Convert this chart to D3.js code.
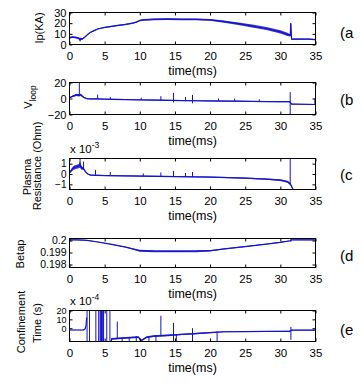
<!DOCTYPE html>
<html><head><meta charset="utf-8">
<script src="https://cdn.jsdelivr.net/npm/d3@7"></script>
<style>
html,body{margin:0;padding:0;background:#fff;}
svg{display:block;}
text{font-family:"Liberation Sans",Arial,Helvetica,sans-serif;fill:#000;}
</style></head><body>
<svg id="chart" width="363" height="382"></svg>
<script>
// ---------- shared axis data ----------
const xTicks = [0, 5, 10, 15, 20, 25, 30, 35];
const xLabel = "time(ms)";
const panelTags = ["(a", "(b", "(c", "(d", "(e"];

// ---------- (a) plasma current Ip (kA) ----------
const ipTime  = [0,0.5,1,1.4,1.5,1.6,1.8,2.2,2.6,3,3.5,4,5,6,6.8,7,8,9,9.5,10,10.5,12,14,16,18,20,22,24,26,28,30,31,31.4,31.5,31.6,32,34,35];
const ipVal   = [6.5,7,6.5,5.5,4,5.5,5,7,9.5,11.5,13,14.5,16,17,17.8,18,18.8,20,21,22.5,23,23.5,23.8,23.6,23.5,23,21.5,19.5,17.3,15,11.8,9.5,8.5,20,5,5,5,4.5];
const ipNoise = [0.8,0.8,0.8,1,1.5,1,0.8,0.5,0.5,0.5,0.5,0.5,0.5,0.6,0.6,0.6,0.6,0.6,0.6,0.7,0.8,0.8,0.8,0.8,0.8,0.8,1,1.2,1.4,1.5,1.5,1.5,1,0,0.5,0.6,0.6,0.6];
const ipSpikes = [[31.45, 8, 20]];
const ipTicks = [0, 10, 20, 30];

// ---------- (b) loop voltage ----------
const vTime  = [0,0.5,1,1.3,1.6,2,2.5,3,4,5,6,8,10,12,14,16,18,20,22,24,26,28,30,31.3,31.6,32,33,34,35];
const vVal   = [1,3,4.5,4,4.5,1.5,-0.3,-0.5,-0.5,-0.8,-1,-1.3,-1.7,-2,-2.3,-2.6,-2.8,-3,-3.2,-3.4,-3.6,-3.8,-4,-4,-7,-7,-7.2,-7.3,-7.5];
const vNoise = [0.5,1,1.5,1.5,1.5,1,0.6,0.6,0.6,0.6,0.6,0.6,0.6,0.6,0.6,0.6,0.6,0.6,0.6,0.6,0.6,0.6,0.6,0.6,0.5,0.5,0.5,0.5,0.5];
const vSpikes = [[1.4,3,22],[4.0,-0.5,5],[5.8,-1,2],[10.2,-1.8,1],[13.0,-2.1,3],[14.8,-5,7],[16.5,-2.6,2],[17.5,-6,4.5],[21.2,-3,0],[23.5,-3.4,0],[27,-3.7,-1],[31.4,-22,8],[34.9,-7.5,0]];
const vTicks = [-20, 0, 20];

// ---------- (c) plasma resistance (x 1e-3 Ohm) ----------
const rTime  = [0,0.3,0.6,1,1.3,1.5,1.7,2,2.3,2.6,3,5,10,15,20,25,28,30,31,31.3,31.45,31.6,31.8,32.2];
const rVal   = [0.1,0.4,0.6,0.7,0.75,0.9,0.6,0.5,0.2,0,-0.1,-0.15,-0.2,-0.25,-0.3,-0.4,-0.5,-0.6,-0.75,-0.9,-1.0,-1.2,-1.5,-2];
const rNoise = [0.1,0.15,0.2,0.2,0.2,0.3,0.2,0.1,0.05,0.05,0.05,0.05,0.05,0.05,0.05,0.05,0.06,0.08,0.1,0.12,0.1,0.1,0.1,0.1];
const rSpikes = [[1.5,0.8,1.6],[2.0,0.5,1.2],[3.7,-0.1,0.4],[5.8,-0.15,0.2],[10.5,-0.2,0.05],[13,-0.22,0.15],[14.8,-0.25,0.3],[16.5,-0.28,0.1],[17.5,-0.3,0.2],[31.4,-1.0,1.6]];
const rTicks = [-1, 0, 1];

// ---------- (d) beta_p ----------
const bTime  = [0,1,2,2.5,4,6,8,10,12,15,18,20,22,25,28,30,31.4,31.6,33,35];
const bVal   = [0.20005,0.20005,0.20004,0.20002,0.19988,0.19968,0.19945,0.19915,0.19911,0.1991,0.19911,0.19915,0.1993,0.1995,0.1997,0.19985,0.19998,0.20006,0.20006,0.20006];
const bNoise = [0.00003,0.00003,0.00003,0.00003,0.00003,0.00003,0.00004,0.00008,0.00008,0.00008,0.00008,0.00006,0.00004,0.00004,0.00004,0.00004,0.00003,0.00003,0.00003,0.00003];
const bSpikes = [[31.5,0.1999,0.20015],[35,0.1977,0.2001]];
const bTicks = [0.198, 0.199, 0.2];

// ---------- (e) confinement time (x 1e-4 s) ----------
const eTime  = [0,1,2,2.2,2.35,2.45,2.5,5.9,6,8,9.8,10.2,11,12,14,16,18,20,22,25,28,31.3,31.6,35];
const eVal   = [-2,-2,-2,-1,3,12,null,-16,-12,-11,-10,-14,-10,-9,-8,-7,-6,-5,-4,-3.8,-3.6,-3.5,-2.2,-2.2];
const eNoise = [0.3,0.3,0.3,0.3,0.3,0.3,0,0.5,1,1,1,1,1,1,1,0.8,0.8,0.6,0.5,0.5,0.5,0.5,0.4,0.4];
const eSpikes = [[2.5,-20,25],[2.85,-20,25],[3.75,-20,25],[4.15,-20,25],[4.35,-20,25],[4.45,-20,25],[4.55,-20,25],[4.65,-20,25],[4.75,-20,25],[4.85,-20,25],[5.3,-20,25],[5.75,-20,25],
  [6.8,-12,7.5],[7.5,-16,-11],[8.5,-16,-10],[9.5,-16,-9],[11.3,-16,-9],[12.3,-16,-8],[13.0,-8,14],[14.8,-16,6],[15.2,-16,-7],[17.5,-16,0],[21.0,-16,-4],[31.5,-13,1.5],[35,-16,-1]];
const eTicks = [0, 10, 20];

// ---------- layout ----------
const L = 69.5, R = 315.5;
const BLUE = "#1414cc";
const svg = d3.select("#chart");
const x = d3.scaleLinear().domain([0, 35]).range([L, R]);

const panels = [
  {time: ipTime, val: ipVal, noise: ipNoise, spikes: ipSpikes, ticks: ipTicks, domain: [0, 30], top: 12.5, bottom: 44.5, yfs: 11},
  {time: vTime, val: vVal, noise: vNoise, spikes: vSpikes, ticks: vTicks, domain: [-20, 20], top: 82.5, bottom: 114.5, yfs: 11},
  {time: rTime, val: rVal, noise: rNoise, spikes: rSpikes, ticks: rTicks, domain: [-1.5, 1.5], top: 158.5, bottom: 189.5, mult: "-3", yfs: 10},
  {time: bTime, val: bVal, noise: bNoise, spikes: bSpikes, ticks: bTicks, domain: [0.19775, 0.20017], top: 238.5, bottom: 267.5, fmt: d3.format(".3~f"), yfs: 10.5},
  {time: eTime, val: eVal, noise: eNoise, spikes: eSpikes, ticks: eTicks, domain: [-15, 20], top: 310.5, bottom: 341.5, mult: "-4", yfs: 9}
];
const tagY = [38, 105, 180, 261, 335];

panels.forEach((p, i) => {
  const y = d3.scaleLinear().domain(p.domain).range([p.bottom, p.top]);
  const g = svg.append("g");
  const cid = "clip" + i;
  svg.append("defs").append("clipPath").attr("id", cid)
    .append("rect").attr("x", L).attr("y", p.top).attr("width", R - L).attr("height", p.bottom - p.top);
  const pts = p.time.map((t, k) => ({t, v: p.val[k], n: p.noise[k]}));
  const plot = g.append("g").attr("clip-path", `url(#${cid})`);
  plot.append("path").datum(pts)
    .attr("d", d3.area().defined(d => d.v != null).x(d => x(d.t)).y0(d => y(d.v - d.n)).y1(d => y(d.v + d.n)))
    .attr("fill", BLUE).attr("opacity", 0.85);
  plot.append("path").datum(pts)
    .attr("d", d3.line().defined(d => d.v != null).x(d => x(d.t)).y(d => y(d.v)))
    .attr("fill", "none").attr("stroke", BLUE).attr("stroke-width", 1.2);
  plot.selectAll("line.spike").data(p.spikes).join("line").attr("class", "spike")
    .attr("x1", d => x(d[0])).attr("x2", d => x(d[0]))
    .attr("y1", d => y(d[1])).attr("y2", d => y(d[2]))
    .attr("stroke", BLUE).attr("stroke-width", 1);

  // axes (MATLAB style, inward ticks on all four sides)
  const ax = g.append("g").attr("transform", `translate(0,${p.bottom})`)
    .call(d3.axisBottom(x).tickValues(xTicks).tickSize(-3).tickPadding(7).tickFormat(d3.format("d")));
  ax.selectAll(".tick text").attr("font-size", 11.5);
  g.append("g").attr("transform", `translate(0,${p.top})`)
    .call(d3.axisTop(x).tickValues(xTicks).tickSize(-3).tickFormat(""));
  const ay = g.append("g").attr("transform", `translate(${L},0)`)
    .call(d3.axisLeft(y).tickValues(p.ticks).tickSize(-3).tickPadding(3).tickFormat(p.fmt || d3.format("d")));
  ay.selectAll(".tick text").attr("font-size", p.yfs);
  g.append("g").attr("transform", `translate(${R},0)`)
    .call(d3.axisRight(y).tickValues(p.ticks).tickSize(-3).tickFormat(""));
  g.selectAll(".domain").remove();
  g.selectAll(".tick line").attr("stroke", "#000");
  g.selectAll(".tick text").attr("font-family", '"Liberation Sans",Arial,sans-serif').attr("fill", "#000");
  g.append("rect").attr("x", L).attr("y", p.top).attr("width", R - L).attr("height", p.bottom - p.top)
    .attr("fill", "none").attr("stroke", "#000").attr("stroke-width", 1);

  g.append("text").attr("x", (L + R) / 2).attr("y", p.bottom + 30.5).attr("text-anchor", "middle")
    .attr("font-size", 12.5).text(xLabel);

  if (p.mult) {
    const m = g.append("text").attr("x", 70).attr("y", p.top - 6).attr("font-size", 11.5);
    m.append("tspan").text("x 10");
    m.append("tspan").attr("dy", -5).attr("font-size", 8.5).text(p.mult);
  }

  svg.append("text").attr("x", 340).attr("y", tagY[i]).attr("font-size", 15)
    .attr("font-family", '"Liberation Serif","Times New Roman",serif').text(panelTags[i]);
});

// y labels (rotated)
function ylab(txt, cx, cy, size) {
  return svg.append("text").attr("transform", `translate(${cx},${cy}) rotate(-90)`)
    .attr("text-anchor", "middle").attr("font-size", size || 11).text(txt);
}
ylab("Ip(KA)", 43, 28);
const vl = svg.append("text").attr("transform", "translate(32,97) rotate(-90)").attr("text-anchor", "middle").attr("font-size", 11);
vl.append("tspan").text("V");
vl.append("tspan").attr("dy", 4).attr("font-size", 8.5).text("loop");
ylab("Plasma", 31, 177);
ylab("Resistance (Ohm)", 41, 166);
ylab("Betap", 24, 254);
ylab("Confinement", 25, 322);
ylab("Time (s)", 41, 323);
</script>
</body></html>
